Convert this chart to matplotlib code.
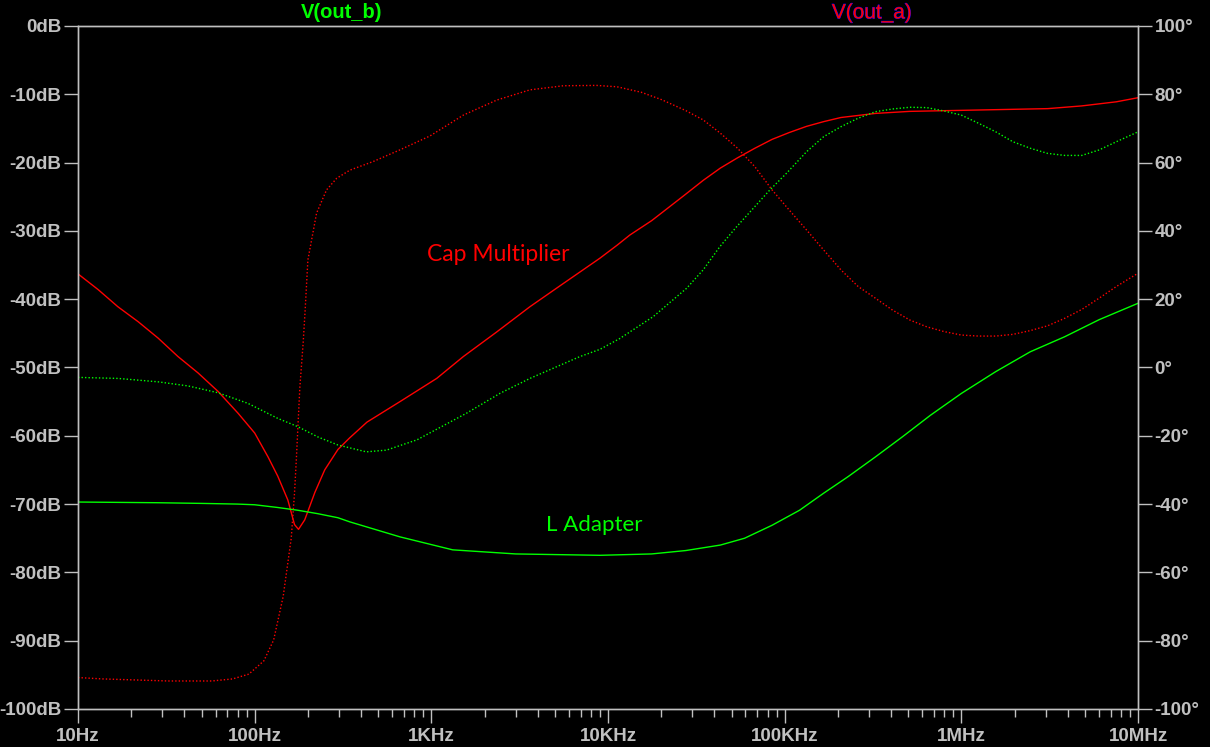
import numpy as np
import matplotlib.pyplot as plt
import matplotlib.patheffects as pe
from matplotlib.ticker import FixedLocator, LogLocator, NullFormatter

# V(out_a) magnitude (dB) - Cap Multiplier
freq_a_mag = [10, 13, 16.8, 21.9, 28.4, 36.8, 47.8, 62, 80.5, 100, 119, 135, 154, 168, 177, 192, 219,
              249, 296, 345, 432, 664, 1072, 1517, 2343, 3614, 5585, 8995, 11250, 13300, 17660, 20500,
              27600, 34580, 43260, 54100, 67780, 84850, 106100, 132800, 166300, 208000, 326000,
              511000, 800000, 1960000, 3080000, 4810000, 7540000, 10000000]
mag_a = [-36.3, -38.6, -41.1, -43.3, -45.7, -48.4, -50.8, -53.5, -56.7, -59.6, -63.1, -65.9, -69.4,
         -73.0, -73.7, -72.3, -68.3, -65.0, -62.0, -60.3, -58.0, -55.0, -51.6, -48.4, -44.8, -41.1,
         -37.7, -34.0, -32.1, -30.6, -28.5, -27.2, -24.6, -22.6, -20.8, -19.3, -17.9, -16.6, -15.6,
         -14.7, -14.0, -13.4, -12.8, -12.5, -12.4, -12.2, -12.1, -11.7, -11.1, -10.5]

# V(out_a) phase (deg)
freq_a_ph = [10, 13.8, 32.3, 57.2, 75, 92.6, 112.7, 128, 145, 161, 168, 172, 180, 188, 193, 200, 224,
             255, 291, 346, 468, 662, 982, 1517, 2343, 3614, 5585, 8610, 11250, 15410, 20180, 27600,
             34580, 43260, 54100, 67780, 84850, 106100, 132800, 166300, 208000, 260600, 326000,
             408000, 511000, 638000, 800000, 1000000, 1253000, 1567000, 1959000, 2455000, 3075000,
             3845000, 4808000, 6025000, 7535000, 10000000]
ph_a = [-90.8, -91.2, -91.8, -91.8, -91.2, -89.8, -85.9, -79.8, -67.0, -50.0, -36.8, -27.1, -6.0,
        7.1, 16.8, 31.5, 45.2, 52.0, 55.4, 57.8, 60.3, 63.7, 67.8, 73.9, 78.3, 81.3, 82.5, 82.6, 82.2,
        80.6, 78.4, 75.2, 72.5, 68.6, 64.2, 58.8, 52.0, 46.1, 40.3, 34.4, 28.6, 23.7, 20.3, 16.8, 13.9,
        11.9, 10.5, 9.5, 9.2, 9.2, 9.7, 10.8, 12.2, 14.4, 17.0, 20.3, 23.7, 27.6]

# V(out_b) magnitude (dB) - L Adapter
freq_b_mag = [10, 28, 50, 80, 100, 135, 175, 227, 296, 345, 664, 1320, 3000, 8995, 17660, 27600,
              43260, 59300, 84850, 121400, 166300, 228000, 326000, 466600, 668000, 1000000, 1567000,
              2455000, 3845000, 6025000, 10000000]
mag_b = [-69.7, -69.8, -69.9, -70.0, -70.1, -70.5, -70.9, -71.4, -72.0, -72.6, -74.8, -76.7, -77.3,
         -77.5, -77.3, -76.8, -76.0, -75.0, -73.1, -70.9, -68.4, -66.0, -63.1, -60.1, -57.0, -53.8,
         -50.6, -47.7, -45.5, -43.0, -40.6]

# V(out_b) phase (deg)
freq_b_ph = [10, 16.8, 28.4, 41.9, 62, 91.5, 135, 175, 227, 296, 428, 557, 828, 1580, 2440, 3614,
             6935, 8995, 11670, 18030, 27860, 34580, 42980, 53400, 66370, 82450, 102500, 133100,
             166300, 208000, 260600, 326000, 408000, 511000, 638000, 800000, 1000000, 1253000,
             1567000, 1959000, 2455000, 3075000, 3845000, 4808000, 6025000, 7535000, 10000000]
ph_b = [-2.9, -3.2, -4.2, -5.4, -7.4, -10.5, -14.9, -17.3, -20.3, -22.7, -24.7, -24.2, -21.2, -13.4,
        -7.6, -3.2, 3.2, 5.3, 8.5, 14.9, 23.2, 28.6, 35.4, 41.2, 46.6, 52.0, 56.9, 63.2, 67.6, 70.5,
        73.0, 74.9, 75.7, 76.2, 76.1, 75.1, 73.9, 71.5, 69.0, 66.1, 64.2, 62.7, 62.1, 62.1, 63.7,
        66.1, 69.0]

db_ticks = list(range(-100, 1, 10))
deg_ticks = list(range(-100, 101, 20))
freq_ticks = [10, 100, 1000, 10000, 100000, 1000000, 10000000]
freq_labels = ["10Hz", "100Hz", "1KHz", "10KHz", "100KHz", "1MHz", "10MHz"]

red = "#ff0000"
green = "#00ff00"
grey = "#c0c0c0"
tick_font = dict(family="Liberation Sans", weight="bold", size=13.5)

fig = plt.figure(figsize=(12.1, 7.47), dpi=100, facecolor="black")
ax = fig.add_axes([0.0645, 0.0509, 0.876, 0.9143], facecolor="black")
ax2 = ax.twinx()

ax.plot(freq_a_mag, mag_a, color=red, lw=1)
ax.plot(freq_b_mag, mag_b, color=green, lw=1)
ax2.plot(freq_a_ph, ph_a, color=red, lw=1, ls=(0, (1, 1.5)))
ax2.plot(freq_b_ph, ph_b, color=green, lw=1, ls=(0, (1, 1.5)))

ax.set_xscale("log")
ax.set_xlim(10, 1e7)
ax.set_ylim(-100, 0)
ax2.set_ylim(-100, 100)

ax.xaxis.set_major_locator(FixedLocator(freq_ticks))
ax.xaxis.set_minor_locator(LogLocator(base=10, subs=np.arange(2, 10)))
ax.xaxis.set_minor_formatter(NullFormatter())
ax.set_xticklabels(freq_labels, color=grey, **tick_font)
ax.set_yticks(db_ticks)
ax.set_yticklabels([f"{v}dB" for v in db_ticks], color=grey, **tick_font)
ax2.set_yticks(deg_ticks)
ax2.set_yticklabels([f"{v}°" for v in deg_ticks], color=grey, **tick_font)

for a in (ax, ax2):
    for s in a.spines.values():
        s.set_color(grey)
        s.set_linewidth(1)
    a.tick_params(colors=grey, direction="out", length=10, width=1, pad=2)
ax.tick_params(axis="x", which="minor", colors=grey, length=6, width=1)
ax.tick_params(axis="x", which="major", length=10, pad=4)

ax.text(2380, -33.5, "Cap Multiplier", color=red, fontsize=16.5, family="Lato",
        ha="center", va="center")
ax.text(8400, -73.1, "L Adapter", color=green, fontsize=16, family="Lato",
        ha="center", va="center")

fig.text(342 / 1210, 1 - 13 / 747, "V(out_b)", color=green, ha="center", va="center",
         family="Liberation Sans", weight="bold", size=14.5)
fig.text(872 / 1210, 1 - 13 / 747, "V(out_a)", color=red, ha="center", va="center",
         family="Liberation Sans", size=15,
         path_effects=[pe.withStroke(linewidth=0.6, foreground="#0000ff")])

fig.savefig("out.png", dpi=100, facecolor="black")
